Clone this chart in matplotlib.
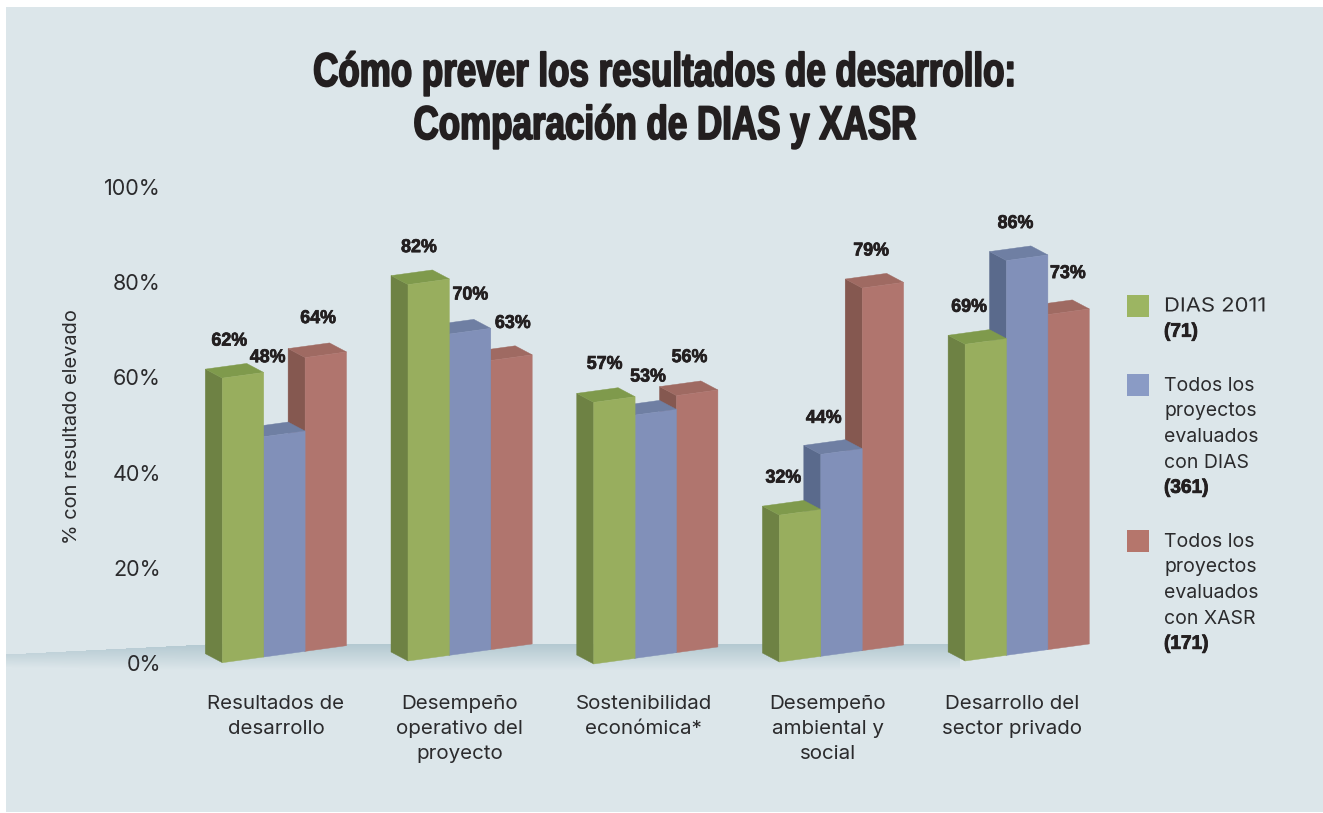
import matplotlib
matplotlib.use('Agg')
import matplotlib.pyplot as plt
import numpy as np
from matplotlib.patches import Polygon, Rectangle
from matplotlib.patheffects import AbstractPathEffect
from matplotlib.transforms import Affine2D

W, H = 1323, 813

categories = ['Resultados de\ndesarrollo', 'Desempeño\noperativo del\nproyecto',
              'Sostenibilidad\neconómica*', 'Desempeño\nambiental y\nsocial',
              'Desarrollo del\nsector privado']
dias_2011 = [62, 82, 57, 32, 69]
dias_all = [48, 70, 53, 44, 86]
xasr_all = [64, 63, 56, 79, 73]
series = [dias_2011, dias_all, xasr_all]

y_ticks = [0, 20, 40, 60, 80, 100]
y_tick_labels = ['0%', '20%', '40%', '60%', '80%', '100%']

# front, side, top
colors = [('#98ae5e', '#6e8244', '#7f9a4c'),
          ('#8190b9', '#5a6a8c', '#6f7fa3'),
          ('#b0756e', '#855850', '#9f6a62')]
legend_colors = ['#9cb562', '#8a9bc5', '#b5766c']
legend_labels = [['DIAS 2011'],
                 ['Todos los', 'proyectos', 'evaluados', 'con DIAS'],
                 ['Todos los', 'proyectos', 'evaluados', 'con XASR']]
legend_counts = ['(71)', '(361)', '(171)']

# label offsets from the bar's top left corner, in pixels
label_dx = [[7, 11, 11, 4, 4], [4, 21, 13, 3, 9], [13, 22, 13, 9, 20]]
label_dy = [[37, 37, 38, 37, 37], [79, 39, 38, 36, 37], [39, 37, 38, 37, 41]]
base_shift = [0, 1.7, -1.3, 0.7, 1.7]  # each cluster sits a bit differently, px

TEXT = '#2b2b2d'
DARK = '#231f20'
BODY = ['Inter', 'DejaVu Sans']
HEAVY = ['Liberation Sans', 'DejaVu Sans']


class Squeeze(AbstractPathEffect):
    # no condensed heavy font installed, so narrow the glyphs around x (display px)
    def __init__(self, x, sx, lw=0.0):
        super().__init__()
        self.x, self.sx, self.lw = x, sx, lw

    def draw_path(self, renderer, gc, tpath, affine, rgbFace=None):
        tr = affine + Affine2D().translate(-self.x, 0).scale(self.sx, 1).translate(self.x, 0)
        if self.lw > 0:
            gc0 = renderer.new_gc()
            gc0.copy_properties(gc)
            gc0.set_linewidth(self.lw)
            gc0.set_foreground(DARK)
            renderer.draw_path(gc0, tpath, tr, rgbFace)
            gc0.restore()
        renderer.draw_path(gc, tpath, tr, rgbFace)


fig = plt.figure(figsize=(W / 100, H / 100), dpi=100, facecolor='white')

# background layer works in pixels
bg = fig.add_axes([0, 0, 1, 1])
bg.add_patch(Rectangle((6, 7), W - 6, 805, color='#dce6ea', lw=0, zorder=-1))
xx, yy = np.meshgrid(np.arange(6, 960), np.arange(630, 680))
top = np.interp(xx, [6, 205, 960], [654, 644, 644])
fade = np.interp(xx, [6, 205, 960], [13, 26, 26])
t = (yy - top) / fade
alpha = np.where(t < 0, 0, np.clip(1 - t, 0, 1)) * np.interp(xx, [6, 205], [0.6, 1.0])
floor = np.zeros(xx.shape + (4,))
floor[..., 0], floor[..., 1], floor[..., 2] = 0xb4 / 255, 0xc9 / 255, 0xd1 / 255
floor[..., 3] = alpha
bg.imshow(floor, extent=(6, 960, 680, 630), aspect='auto', interpolation='bilinear', zorder=0)
bg.set_xlim(0, W)
bg.set_ylim(H, 0)
bg.axis('off')

for y, line in zip([74, 127], ['Cómo prever los resultados de desarrollo:', 'Comparación de DIAS y XASR']):
    bg.text(665, y, line, ha='center', va='center', fontsize=34, fontweight='bold',
            family=HEAVY, color=DARK, path_effects=[Squeeze(665, 0.74, 1.3)])
bg.text(72, 427, '% con resultado elevado', rotation=90, ha='center', va='center',
        fontsize=14.4, family=BODY, color=TEXT)

# legend
legend_tops = [295, 374, 530]
for color, lines, count, y0 in zip(legend_colors, legend_labels, legend_counts, legend_tops):
    bg.add_patch(Rectangle((1127, y0), 22, 22, color=color, lw=0))
    y = y0 + 11.5
    for line in lines:
        tx = bg.text(1164, y, line, va='center', fontsize=14, family=BODY, color=TEXT)
        if line == 'DIAS 2011':
            tx.set_path_effects([Squeeze(1164, 1.13)])
        y += 25.7
    bg.text(1164, y, count, va='center', fontsize=14, fontweight='bold', family=HEAVY,
            color=DARK, path_effects=[Squeeze(1164, 0.98, 0.6)])

# tick axis, 0-100 runs from y=663 to y=187
tk = fig.add_axes([161 / W, 1 - 663 / H, 1 / W, 476 / H])
tk.patch.set_alpha(0)
tk.set_ylim(0, 100)
tk.set_xticks([])
tk.set_yticks(y_ticks)
tk.set_yticklabels(y_tick_labels, fontsize=15.5, family=BODY, color=TEXT)
tk.tick_params(axis='y', length=0, pad=0)
for s in tk.spines.values():
    s.set_visible(False)

# bars: x in clusters, y in percent, full figure
GROUP_PX, PCT_PX = 185.7, 4.59
X0, BASE = 222.3, 662.7
BAR = 41.4 / GROUP_PX
DEPTH_X = -17 / GROUP_PX
DEPTH_Y = 9 / PCT_PX
SLOPE = (17 / 124) * GROUP_PX / PCT_PX

ax = fig.add_axes([0, 0, 1, 1])
ax.patch.set_alpha(0)
ax.set_xlim(-X0 / GROUP_PX, (W - X0) / GROUP_PX)
ax.set_ylim((BASE - H) / PCT_PX, BASE / PCT_PX)
ax.axis('off')


def draw_bar(x, base, value, cols):
    front, side, roof = cols
    x1 = x + BAR
    y0, y1 = base + SLOPE * (x - int(x)), base + SLOPE * (x1 - int(x))
    ax.add_patch(Polygon([(x + DEPTH_X, y0 + DEPTH_Y), (x, y0), (x, y0 + value),
                          (x + DEPTH_X, y0 + value + DEPTH_Y)], fc=side, ec=side, lw=0.3))
    ax.add_patch(Polygon([(x, y0 + value), (x1, y1 + value), (x1 + DEPTH_X, y1 + value + DEPTH_Y),
                          (x + DEPTH_X, y0 + value + DEPTH_Y)], fc=roof, ec=roof, lw=0.3))
    ax.add_patch(Polygon([(x, y0), (x1, y1), (x1, y1 + value), (x, y0 + value)],
                         fc=front, ec=front, lw=0.3))
    return y0 + value


for i, cat in enumerate(categories):
    base = base_shift[i] / PCT_PX
    # right to left so nearer bars overlap the sides of the later ones
    for j in (2, 1, 0):
        x = i + j * BAR
        top_y = draw_bar(x, base, series[j][i], colors[j])
        cx = ax.transData.transform((x, top_y))[0] + label_dx[j][i]
        ax.annotate(f'{series[j][i]}%', (x, top_y), xytext=(label_dx[j][i], label_dy[j][i]),
                    textcoords='offset pixels', ha='center', va='center', fontsize=13.4,
                    fontweight='bold', family=HEAVY, color=DARK, zorder=5,
                    path_effects=[Squeeze(cx, 0.96, 0.5)])
    # captions are spaced a little tighter than the clusters
    ax.text(i * 0.9906 + 1.5 * BAR + DEPTH_X / 2, (BASE - 695) / PCT_PX, cat, ha='center', va='top',
            fontsize=14.8, family=BODY, color=TEXT, linespacing=1.5)

fig.savefig('out.png', dpi=100, facecolor='white')
